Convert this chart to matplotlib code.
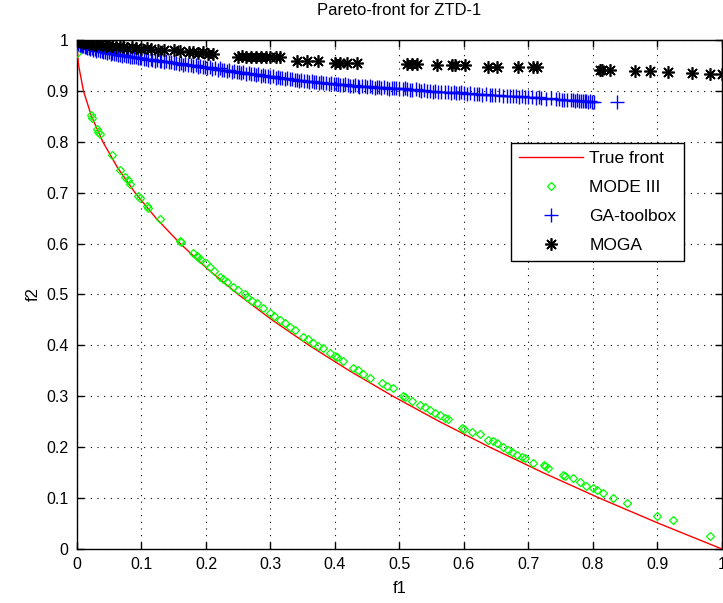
import matplotlib
matplotlib.use('Agg')
import matplotlib.pyplot as plt

# True front
true_f1 = [0.0, 0.0004, 0.0025, 0.01, 0.0225, 0.04, 0.0625, 0.09, 0.1225, 0.16, 0.2025,
           0.25, 0.3025, 0.36, 0.4225, 0.49, 0.5625, 0.64, 0.7225, 0.81, 0.9025, 1.0]
true_f2 = [1.0, 0.98, 0.95, 0.9, 0.85, 0.8, 0.75, 0.7, 0.65, 0.6, 0.55,
           0.5, 0.45, 0.4, 0.35, 0.3, 0.25, 0.2, 0.15, 0.1, 0.05, 0.0]

# MODE III (green diamonds)
mode_f1 = [0.0, 0.021, 0.023, 0.031, 0.033, 0.035, 0.054, 0.067, 0.075, 0.079, 0.082,
           0.095, 0.097, 0.108, 0.110, 0.129, 0.160, 0.162, 0.180, 0.186, 0.188, 0.191,
           0.200, 0.206, 0.212, 0.222, 0.226, 0.233, 0.242, 0.250, 0.260, 0.264, 0.272,
           0.279, 0.288, 0.299, 0.306, 0.315, 0.322, 0.330, 0.338, 0.350, 0.358, 0.366,
           0.374, 0.381, 0.392, 0.400, 0.403, 0.412, 0.428, 0.436, 0.443, 0.455, 0.473,
           0.481, 0.490, 0.505, 0.508, 0.519, 0.532, 0.540, 0.547, 0.555, 0.563, 0.570,
           0.576, 0.597, 0.600, 0.612, 0.625, 0.637, 0.645, 0.651, 0.660, 0.668, 0.675,
           0.682, 0.690, 0.695, 0.707, 0.724, 0.726, 0.730, 0.753, 0.756, 0.769, 0.780,
           0.790, 0.800, 0.806, 0.816, 0.831, 0.853, 0.899, 0.924, 0.981]
mode_f2 = [0.975, 0.852, 0.846, 0.826, 0.820, 0.816, 0.774, 0.745, 0.730, 0.725, 0.718,
           0.693, 0.690, 0.674, 0.670, 0.648, 0.605, 0.603, 0.582, 0.576, 0.574, 0.570,
           0.562, 0.554, 0.546, 0.534, 0.530, 0.524, 0.515, 0.508, 0.500, 0.495, 0.488,
           0.483, 0.474, 0.464, 0.458, 0.450, 0.444, 0.436, 0.430, 0.417, 0.412, 0.405,
           0.399, 0.395, 0.386, 0.380, 0.377, 0.370, 0.356, 0.351, 0.344, 0.335, 0.326,
           0.321, 0.316, 0.301, 0.298, 0.291, 0.283, 0.278, 0.273, 0.268, 0.263, 0.258,
           0.255, 0.238, 0.236, 0.230, 0.226, 0.214, 0.212, 0.208, 0.200, 0.194, 0.190,
           0.185, 0.181, 0.179, 0.169, 0.165, 0.163, 0.159, 0.145, 0.143, 0.139, 0.132,
           0.124, 0.120, 0.116, 0.110, 0.100, 0.090, 0.065, 0.057, 0.026]

# GA-toolbox (blue pluses)
ga_f1 = [0.0, 0.002, 0.004, 0.006, 0.008, 0.010, 0.012, 0.014, 0.016, 0.018, 0.020,
         0.023, 0.025, 0.028, 0.030, 0.033, 0.035, 0.038, 0.040, 0.043, 0.046, 0.049,
         0.052, 0.055, 0.058, 0.061, 0.064, 0.067, 0.070, 0.073, 0.076, 0.079, 0.082,
         0.085, 0.088, 0.091, 0.094, 0.097, 0.100, 0.104, 0.107, 0.110, 0.114, 0.117,
         0.121, 0.124, 0.128, 0.131, 0.135, 0.138, 0.142, 0.146, 0.150, 0.154, 0.158,
         0.161, 0.165, 0.168, 0.172, 0.176, 0.180, 0.184, 0.188, 0.191, 0.195, 0.198,
         0.202, 0.206, 0.210, 0.214, 0.218, 0.221, 0.225, 0.228, 0.232, 0.236, 0.240,
         0.244, 0.248, 0.251, 0.255, 0.258, 0.262, 0.266, 0.270, 0.274, 0.278, 0.281,
         0.285, 0.288, 0.292, 0.296, 0.300, 0.304, 0.308, 0.311, 0.315, 0.318, 0.322,
         0.326, 0.330, 0.334, 0.338, 0.341, 0.345, 0.348, 0.352, 0.356, 0.360, 0.364,
         0.368, 0.371, 0.375, 0.378, 0.382, 0.386, 0.390, 0.394, 0.398, 0.401, 0.405,
         0.408, 0.412, 0.416, 0.420, 0.424, 0.428, 0.431, 0.435, 0.438, 0.442, 0.446,
         0.450, 0.454, 0.458, 0.462, 0.465, 0.468, 0.472, 0.476, 0.480, 0.484, 0.488,
         0.492, 0.495, 0.500, 0.505, 0.508, 0.512, 0.516, 0.520, 0.525, 0.530, 0.534,
         0.538, 0.543, 0.548, 0.552, 0.555, 0.560, 0.565, 0.570, 0.575, 0.580, 0.585,
         0.588, 0.592, 0.596, 0.600, 0.605, 0.610, 0.615, 0.620, 0.624, 0.628, 0.634,
         0.640, 0.644, 0.648, 0.654, 0.660, 0.666, 0.672, 0.676, 0.680, 0.685, 0.690,
         0.695, 0.700, 0.706, 0.712, 0.716, 0.720, 0.728, 0.735, 0.742, 0.748, 0.752,
         0.755, 0.760, 0.766, 0.769, 0.772, 0.775, 0.778, 0.782, 0.785, 0.788, 0.790,
         0.793, 0.796, 0.799, 0.801, 0.838]
ga_f2 = [0.995, 0.992, 0.990, 0.991, 0.988, 0.989, 0.986, 0.987, 0.984, 0.985, 0.983,
         0.984, 0.981, 0.982, 0.979, 0.980, 0.978, 0.979, 0.976, 0.977, 0.975, 0.976,
         0.973, 0.974, 0.972, 0.973, 0.970, 0.971, 0.969, 0.970, 0.968, 0.969, 0.967,
         0.966, 0.966, 0.967, 0.965, 0.964, 0.964, 0.962, 0.963, 0.961, 0.962, 0.960,
         0.959, 0.961, 0.958, 0.959, 0.957, 0.958, 0.956, 0.957, 0.954, 0.955, 0.953,
         0.954, 0.951, 0.953, 0.950, 0.951, 0.949, 0.950, 0.947, 0.948, 0.946, 0.947,
         0.945, 0.946, 0.943, 0.944, 0.942, 0.944, 0.941, 0.942, 0.939, 0.941, 0.938,
         0.939, 0.937, 0.938, 0.935, 0.937, 0.934, 0.935, 0.933, 0.934, 0.931, 0.933,
         0.930, 0.931, 0.929, 0.930, 0.927, 0.929, 0.926, 0.927, 0.925, 0.926, 0.924,
         0.925, 0.923, 0.924, 0.921, 0.922, 0.920, 0.921, 0.919, 0.920, 0.918, 0.919,
         0.917, 0.918, 0.916, 0.917, 0.915, 0.916, 0.914, 0.915, 0.913, 0.914, 0.913,
         0.911, 0.912, 0.913, 0.911, 0.910, 0.910, 0.911, 0.910, 0.908, 0.909, 0.910,
         0.908, 0.909, 0.908, 0.906, 0.907, 0.908, 0.906, 0.907, 0.906, 0.904, 0.905,
         0.906, 0.905, 0.904, 0.903, 0.905, 0.903, 0.901, 0.902, 0.903, 0.901, 0.900,
         0.901, 0.900, 0.900, 0.898, 0.899, 0.898, 0.897, 0.898, 0.897, 0.896, 0.897,
         0.895, 0.896, 0.897, 0.895, 0.894, 0.895, 0.893, 0.894, 0.893, 0.892, 0.893,
         0.892, 0.891, 0.892, 0.891, 0.890, 0.890, 0.889, 0.890, 0.889, 0.888, 0.889,
         0.888, 0.887, 0.888, 0.886, 0.887, 0.886, 0.885, 0.886, 0.884, 0.885, 0.883,
         0.883, 0.882, 0.883, 0.882, 0.881, 0.882, 0.881, 0.880, 0.881, 0.880, 0.880,
         0.879, 0.880, 0.879, 0.879, 0.879]

# MOGA (black asterisks)
moga_f1 = [0.0, 0.003, 0.006, 0.010, 0.014, 0.018, 0.022, 0.026, 0.030, 0.035, 0.040,
           0.045, 0.050, 0.055, 0.060, 0.066, 0.072, 0.078, 0.085, 0.092, 0.100, 0.108,
           0.115, 0.125, 0.135, 0.150, 0.160, 0.173, 0.180, 0.187, 0.195, 0.203, 0.211,
           0.250, 0.256, 0.262, 0.270, 0.278, 0.285, 0.293, 0.300, 0.308, 0.315,
           0.341, 0.357, 0.374, 0.400, 0.408, 0.418, 0.434,
           0.511, 0.519, 0.527, 0.558, 0.581, 0.586, 0.602, 0.637, 0.651, 0.684, 0.707,
           0.713, 0.811, 0.814, 0.826, 0.865, 0.888, 0.916, 0.953, 0.981, 1.0]
moga_f2 = [1.0, 0.998, 0.997, 0.995, 0.996, 0.993, 0.994, 0.992, 0.991, 0.992, 0.990,
           0.989, 0.990, 0.988, 0.987, 0.988, 0.986, 0.985, 0.986, 0.984, 0.983, 0.984,
           0.982, 0.981, 0.980, 0.980, 0.979, 0.976, 0.977, 0.975, 0.976, 0.972, 0.972,
           0.967, 0.968, 0.966, 0.967, 0.967, 0.966, 0.967, 0.966, 0.967, 0.966,
           0.959, 0.959, 0.959, 0.955, 0.955, 0.955, 0.955,
           0.953, 0.953, 0.953, 0.951, 0.951, 0.951, 0.951, 0.947, 0.947, 0.947, 0.947,
           0.947, 0.941, 0.941, 0.941, 0.939, 0.939, 0.937, 0.935, 0.933, 0.933]

plt.rcParams['font.family'] = ['Liberation Sans', 'DejaVu Sans']
plt.rcParams['font.size'] = 11

fig = plt.figure(figsize=(7.23, 6.03), dpi=100)
ax = fig.add_axes([0.1065, 0.0896, 0.892, 0.8441])

ax.plot(true_f1, true_f2, color='red', lw=1.0, label='True front', zorder=3)
ax.plot(mode_f1, mode_f2, ls='none', marker='D', markersize=4, markerfacecolor='none',
        markeredgecolor='#00ff00', markeredgewidth=0.9, label='MODE III', zorder=4)
ax.plot(ga_f1, ga_f2, ls='none', marker='+', markersize=10, color='blue',
        markeredgewidth=1.0, label='GA-toolbox', zorder=4)
ax.plot(moga_f1, moga_f2, ls='none', marker=(8, 2, 0), markersize=9, color='black',
        markeredgewidth=1.2, label='MOGA', zorder=4)

ticks = [i / 10 for i in range(11)]
labels = ['0'] + ['%.1f' % t for t in ticks[1:-1]] + ['1']
ax.set_xlim(0, 1)
ax.set_ylim(0, 1)
ax.set_xticks(ticks)
ax.set_xticklabels(labels)
ax.set_yticks(ticks)
ax.set_yticklabels(labels)
ax.tick_params(direction='in', top=True, right=True, length=5, width=1.0,
               labelsize=11.5, pad=6)
ax.grid(True, color='black', linestyle=(0, (1, 5)), linewidth=0.8)
for s in ax.spines.values():
    s.set_linewidth(1.0)

ax.set_title('Pareto-front for ZTD-1', fontsize=12, pad=18)
ax.set_xlabel('f1', fontsize=12, labelpad=6)
ax.set_ylabel('f2', fontsize=12, labelpad=4)

leg = ax.legend(loc='upper left', bbox_to_anchor=(0.673, 0.797), fancybox=False,
                edgecolor='black', framealpha=1, fontsize=12.5, handlelength=3.7,
                handletextpad=0.35, borderpad=0.45, labelspacing=0.8,
                borderaxespad=0.0)
leg.get_frame().set_linewidth(1.0)

fig.savefig('out.png', dpi=100)
